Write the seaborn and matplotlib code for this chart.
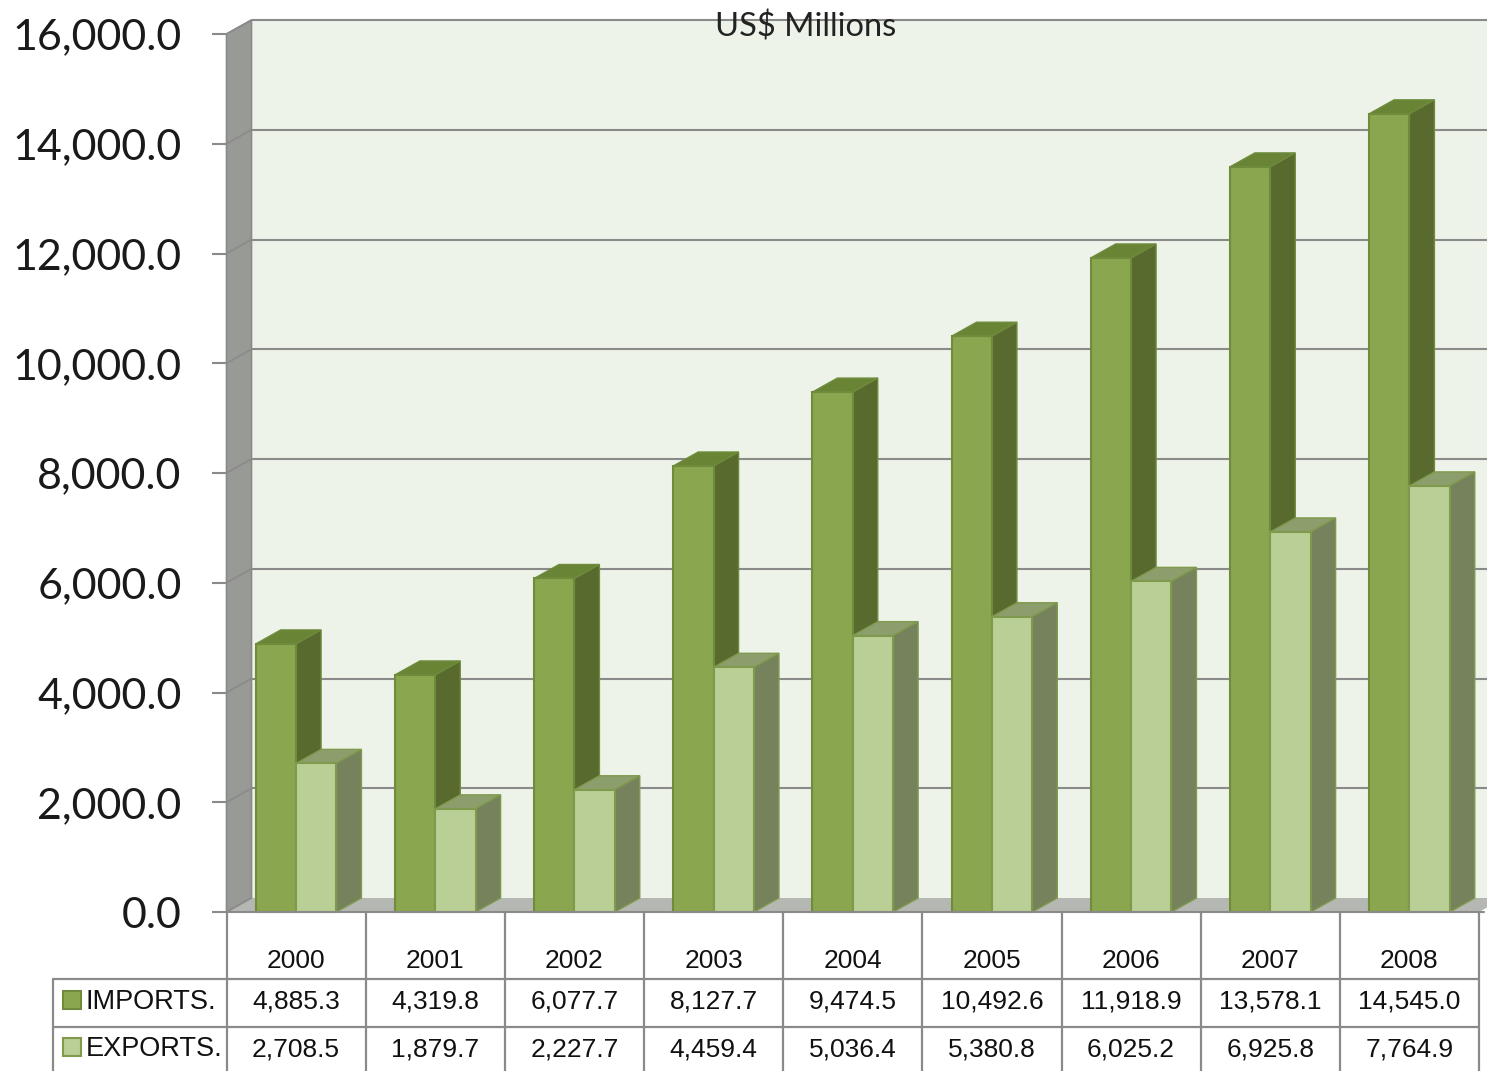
import matplotlib
matplotlib.use("Agg")
import matplotlib.pyplot as plt
import pandas as pd
import seaborn as sns
from matplotlib.patches import Polygon, Rectangle
from matplotlib.transforms import Affine2D, IdentityTransform, blended_transform_factory

years = ["2000", "2001", "2002", "2003", "2004", "2005", "2006", "2007", "2008"]
imports = [4885.3, 4319.8, 6077.7, 8127.7, 9474.5, 10492.6, 11918.9, 13578.1, 14545.0]
exports = [2708.5, 1879.7, 2227.7, 4459.4, 5036.4, 5380.8, 6025.2, 6925.8, 7764.9]
series_names = ["IMPORTS.", "EXPORTS."]
y_ticks = [0, 2000, 4000, 6000, 8000, 10000, 12000, 14000, 16000]

W, H = 1487, 1071
DX, DY = 25, 14
LEFT, RIGHT, TOP, BOTTOM = 226.5, 1479, 34, 912
GRID = "#8A8A8A"
front = {"IMPORTS.": "#8AA64E", "EXPORTS.": "#BACF95"}
side = {"IMPORTS.": "#596A2E", "EXPORTS.": "#76825C"}
cap = {"IMPORTS.": "#6A8436", "EXPORTS.": "#8D9E6D"}
edge = {"IMPORTS.": "#6F8C3D", "EXPORTS.": "#7F9A4C"}

sns.set_theme(style="white")
fig = plt.figure(figsize=(W / 100, H / 100), dpi=100, facecolor="white")
ax = fig.add_axes([LEFT / W, 1 - BOTTOM / H, (RIGHT - LEFT) / W, (BOTTOM - TOP) / H])
ax.patch.set_visible(False)

df = pd.DataFrame({
    "Year": years * 2,
    "Value": imports + exports,
    "Series": [series_names[0]] * len(years) + [series_names[1]] * len(years),
})
sns.barplot(data=df, x="Year", y="Value", hue="Series", palette=front, width=0.58,
            gap=0, legend=False, ax=ax, saturation=1)
ax.set_xlim(-0.5, 8.5)
ax.set_ylim(0, 16000)
ax.set_xlabel("")
ax.set_ylabel("")
ax.set_xticks([])
ax.set_yticks(y_ticks)
ax.set_yticklabels([f"{v:,.1f}" for v in y_ticks], fontsize=31, family="Lato", color="#1A1A1A")
ax.tick_params(axis="y", left=True, length=10.8, width=1.5, color=GRID, pad=21.5)
sns.despine(ax=ax, left=True, bottom=True)

# pixel coordinates measured from the top-left corner of the image
px = Affine2D().scale(1, -1).translate(0, H)
back = ax.transData + Affine2D().translate(DX, DY)
x_px = blended_transform_factory(ax.transData, px)

# walls and floor of the 3D box
ax.add_patch(Polygon([(LEFT + DX, TOP - DY), (RIGHT + DX, TOP - DY), (RIGHT + DX, BOTTOM - DY), (LEFT + DX, BOTTOM - DY)],
                     transform=px, fc="#EEF3E9", ec="none", zorder=0.5, clip_on=False))
ax.add_patch(Polygon([(LEFT, TOP), (LEFT + DX, TOP - DY), (LEFT + DX, BOTTOM - DY), (LEFT, BOTTOM)],
                     transform=px, fc="#989A96", ec=GRID, lw=1.2, zorder=0.6, clip_on=False))
ax.add_patch(Polygon([(LEFT, BOTTOM), (LEFT + DX, BOTTOM - DY), (RIGHT + DX, BOTTOM - DY), (RIGHT, BOTTOM)],
                     transform=px, fc="#B5B7B2", ec="none", zorder=0.6, clip_on=False))
ax.hlines(y_ticks[1:], -0.5, 8.7, transform=back, color=GRID, lw=1.5, zorder=0.7, clip_on=False)
for v in y_ticks:
    ax.plot([-0.5, -0.5 + DX / ((RIGHT - LEFT) / 9)], [v, v + DY * 16000 / (BOTTOM - TOP)],
            color=GRID, lw=1.2, zorder=0.7, clip_on=False)
ax.plot([LEFT, RIGHT + 5], [BOTTOM, BOTTOM], transform=px, color=GRID, lw=1.5, zorder=8, clip_on=False)

# depth faces, derived from the bars that seaborn drew
bars = [p for p in ax.patches if isinstance(p, Rectangle) and p.get_height() > 0 and p.get_zorder() == 1]
n = len(years)
order = sorted(range(len(bars)), key=lambda i: bars[i].get_x())
for rank, i in enumerate(order):
    bar = bars[i]
    name = series_names[0] if i < n else series_names[1]
    z = 2 + rank * 0.1
    x0, x1 = bar.get_x(), bar.get_x() + bar.get_width()
    h = bar.get_height()
    (a, b), (c, d) = ax.transData.transform([(x0, h), (x1, 0)])
    top_face = [(a, b), (c, b), (c + DX, b + DY), (a + DX, b + DY)]
    side_face = [(c, d), (c + DX, d + DY), (c + DX, b + DY), (c, b)]
    ax.add_patch(Polygon(top_face, transform=IdentityTransform(), fc=cap[name], ec=edge[name], lw=1.0,
                         zorder=z, clip_on=False))
    ax.add_patch(Polygon(side_face, transform=IdentityTransform(), fc=side[name], ec=edge[name], lw=1.0,
                         zorder=z, clip_on=False))
    bar.set_edgecolor(edge[name])
    bar.set_linewidth(1.5)
    bar.set_zorder(z + 0.05)
    bar.set_clip_on(False)

# data table
row_lines = [978.5, 1027]
for y in row_lines:
    ax.plot([53, 1478], [y, y], transform=px, color=GRID, lw=1.6, zorder=9, clip_on=False)
ax.plot([53, 53], [row_lines[0], H], transform=px, color=GRID, lw=1.6, zorder=9, clip_on=False)
for k in range(len(years) + 1):
    xk = k - 0.5
    ax.plot([xk, xk], [BOTTOM, H], transform=x_px, color=GRID, lw=1.6, zorder=9, clip_on=False)

table_font = dict(family="Liberation Sans", color="#111111", ha="center", va="center", zorder=10, clip_on=False)
for k, year in enumerate(years):
    ax.text(k, 961, year, transform=x_px, fontsize=19, **table_font)
    ax.text(k, 1001, f"{imports[k]:,.1f}", transform=x_px, fontsize=19, **table_font)
    ax.text(k, 1050, f"{exports[k]:,.1f}", transform=x_px, fontsize=19, **table_font)

for name, y, ty in zip(series_names, [1000, 1047], [1002, 1049]):
    ax.add_patch(Rectangle((63, y - 9), 18, 18, transform=px, fc=front[name], ec=edge[name], lw=1.5,
                           zorder=10, clip_on=False))
    ax.text(86, ty, name, transform=px, fontsize=19.5, family="Liberation Sans", color="#111111",
            ha="left", va="center", zorder=10, clip_on=False)

ax.text(806, 27, "US$ Millions", transform=px, fontsize=23.5, family="Lato",
        color="#222222", ha="center", va="center", zorder=10, clip_on=False)

fig.savefig("out.png", dpi=100)
